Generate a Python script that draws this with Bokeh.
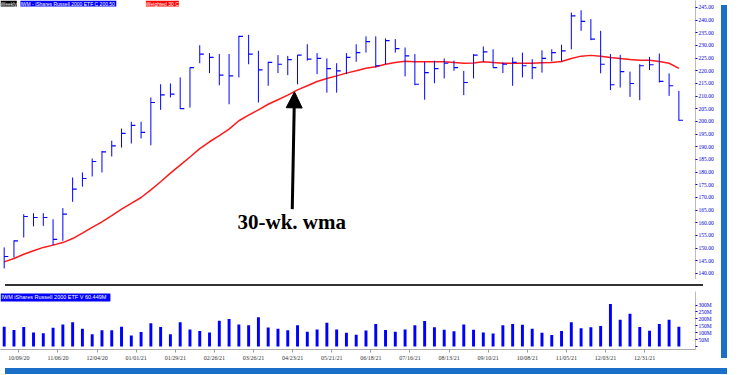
import numpy as np
from bokeh.plotting import figure
from bokeh.models import (Range1d, FixedTicker, NumeralTickFormatter, Label, Arrow,
                          NormalHead, Div, ColumnDataSource)
from bokeh.layouts import column, row
from bokeh.embed import file_html
from bokeh.resources import INLINE

# ---------------- data (weekly IWM) ----------------
highs = [150.3, 153.1, 163.4, 163.8, 163.8, 161.4, 165.8, 177.9, 179.9, 185.4,
         188.4, 192.4, 197.2, 199.9, 199.9, 209.5, 214.7, 215.0, 217.4, 221.3,
         230.1, 227.0, 226.6, 226.6, 233.8, 234.2, 227.9, 223.6, 226.2, 225.9,
         226.2, 230.5, 227.0, 224.9, 223.0, 227.0, 230.5, 233.6, 233.6, 232.8,
         232.5, 229.2, 226.6, 223.6, 224.0, 224.9, 224.0, 220.0, 226.6, 229.6,
         228.5, 223.3, 225.3, 227.2, 224.6, 228.1, 228.5, 230.3, 243.0, 243.9,
         240.4, 235.8, 226.6, 226.3, 219.7, 222.6, 225.5, 226.8, 219.0, 212.1]
lows = [142.0, 146.3, 154.2, 158.6, 158.8, 151.2, 152.9, 168.3, 174.3, 178.3,
        179.9, 186.2, 189.7, 191.3, 193.3, 190.6, 204.6, 209.5, 204.9, 205.5,
        223.0, 219.1, 214.3, 206.8, 217.4, 222.6, 207.5, 214.1, 219.1, 218.3,
        214.7, 224.0, 218.7, 211.4, 211.4, 218.7, 223.6, 227.2, 221.3, 222.6,
        227.2, 217.8, 214.3, 208.6, 215.1, 217.0, 220.0, 210.4, 217.0, 223.6,
        221.3, 219.1, 214.1, 217.4, 216.7, 219.3, 223.7, 223.7, 228.5, 235.8,
        232.1, 219.0, 212.4, 213.4, 209.7, 208.4, 220.3, 215.4, 210.1, 200.3]
closes = [146.7, 152.9, 162.5, 162.1, 162.1, 153.5, 163.4, 173.3, 177.5, 184.2,
          188.0, 190.4, 195.3, 198.5, 195.7, 207.5, 210.5, 210.8, 205.1, 221.3,
          226.6, 225.3, 218.3, 218.0, 233.6, 226.6, 220.4, 223.3, 222.6, 224.4,
          226.2, 224.6, 224.9, 220.9, 220.0, 225.3, 227.2, 231.5, 222.0, 231.9,
          228.8, 225.9, 214.7, 219.3, 220.9, 223.0, 221.3, 215.4, 226.2, 227.5,
          221.3, 222.6, 223.3, 222.0, 221.3, 224.9, 227.2, 227.9, 241.7, 239.5,
          232.5, 222.6, 214.5, 219.7, 215.0, 222.0, 222.4, 215.8, 214.1, 200.5]
wma30 = [144.6, 145.9, 147.6, 149.0, 150.3, 151.2, 152.2, 153.8, 155.9, 158.2,
         160.4, 162.8, 165.4, 167.7, 170.0, 173.0, 176.2, 179.6, 182.8, 186.0,
         189.3, 192.0, 194.4, 197.0, 200.3, 202.5, 204.6, 206.8, 208.6, 210.4,
         212.5, 214.1, 215.8, 217.0, 218.0, 219.1, 220.0, 221.0, 221.6, 222.6,
         223.3, 223.8, 223.6, 223.6, 223.6, 223.6, 223.3, 223.0, 223.1, 223.6,
         223.3, 223.0, 223.0, 223.0, 223.0, 223.2, 223.3, 223.7, 224.9, 225.8,
         226.1, 225.8, 225.3, 224.9, 224.5, 224.2, 224.2, 223.7, 223.0, 221.0]
volume_m = [144, 120, 142, 102, 96, 136, 160, 176, 128, 90,
            118, 118, 144, 80, 106, 168, 142, 90, 176, 124,
            112, 102, 186, 200, 160, 154, 212, 138, 128, 118,
            154, 108, 124, 172, 124, 100, 86, 116, 164, 120,
            108, 124, 154, 184, 140, 122, 110, 160, 122, 102,
            94, 154, 164, 158, 128, 100, 84, 112, 176, 132,
            140, 148, 308, 194, 238, 142, 114, 164, 194, 144]
date_labels = ["10/09/20", "11/06/20", "12/04/20", "01/01/21", "01/29/21", "02/26/21",
               "03/26/21", "04/23/21", "05/21/21", "06/18/21", "07/16/21", "08/13/21",
               "09/10/21", "10/08/21", "11/05/21", "12/03/21", "12/31/21"]
date_tick_pos = [1.5 + 4 * i for i in range(len(date_labels))]
price_ticks = list(range(140, 250, 5))
vol_ticks = [0, 50, 100, 150, 200, 250, 300]

# annotation placement (data coordinates)
ARROW_TAIL = (29.46, 165.4)
ARROW_TIP = (29.69, 211.7)
NOTE_POS = (23.86, 155.4)

BLUE = "#0000ff"
AXIS_BLUE = "#0000cc"
FRAME_BLUE = "#1a6fc8"
TICK_FONT = "Liberation Sans Narrow"

k = np.arange(len(closes))
src = ColumnDataSource(dict(k=k, kc=k + 0.42, high=highs, low=lows, close=closes,
                            wma=wma30, vol=volume_m))

X_RANGE = (-0.377, 70.70)
PRICE_RANGE = (137.63, 247.76)
VOL_RANGE = (-21, 397.8)


def style_right_axis(ax):
    ax.major_label_text_font_size = "5.5px"
    ax.major_label_text_color = AXIS_BLUE
    ax.major_label_text_font = TICK_FONT
    ax.major_label_standoff = 1
    ax.major_tick_out = 2
    ax.major_tick_in = 0
    ax.minor_tick_out = 0
    ax.minor_tick_in = 0
    ax.axis_line_color = "#bbbbbb"
    ax.major_tick_line_color = AXIS_BLUE


# ---------------- price panel ----------------
p = figure(width=716, height=279, output_backend="svg", toolbar_location=None,
           x_range=Range1d(*X_RANGE), y_range=Range1d(*PRICE_RANGE),
           x_axis_location=None, y_axis_location="right",
           min_border_left=0, min_border_top=0, min_border_bottom=0, min_border_right=18)
p.outline_line_color = None
p.grid.visible = False
p.background_fill_color = "white"
p.border_fill_color = "white"

p.line('k', 'wma', source=src, line_color="#ff1a1a", line_width=1.5)
p.segment(x0='k', y0='low', x1='k', y1='high', source=src, line_color=BLUE, line_width=1)
p.segment(x0='k', y0='close', x1='kc', y1='close', source=src, line_color=BLUE, line_width=1.2)

ya = p.yaxis[0]
ya.ticker = FixedTicker(ticks=price_ticks)
ya.formatter = NumeralTickFormatter(format="0.00")
style_right_axis(ya)

p.add_layout(Arrow(end=NormalHead(size=16, fill_color="black", line_color="black"),
                   x_start=ARROW_TAIL[0], y_start=ARROW_TAIL[1],
                   x_end=ARROW_TIP[0], y_end=ARROW_TIP[1],
                   line_width=3, line_color="black"))
p.add_layout(Label(x=NOTE_POS[0], y=NOTE_POS[1], text="30-wk. wma",
                   text_font="Liberation Serif", text_font_style="bold",
                   text_font_size="21px", text_color="black"))

hdr_y = PRICE_RANGE[1]
for xh, txt, bg in [(-0.377, "Weekly", "black"),
                    (1.66, "IWM - iShares Russell 2000 ETF  C 200.50", BLUE),
                    (14.49, "Weighted 30 C", "#ff0000")]:
    p.add_layout(Label(x=xh, y=hdr_y, text=txt, text_baseline="top",
                       text_font="Liberation Sans", text_font_size="5px",
                       text_color="white", background_fill_color=bg, padding=0))

# ---------------- separator ----------------
sep = Div(width=698, height=2, styles={"background-color": "#333333"})

# ---------------- volume panel ----------------
v = figure(width=716, height=72, output_backend="svg", toolbar_location=None,
           x_range=Range1d(*X_RANGE), y_range=Range1d(*VOL_RANGE),
           y_axis_location="right",
           min_border_left=0, min_border_top=0, min_border_right=18, min_border_bottom=0)
v.outline_line_color = None
v.grid.visible = False
v.vbar(x='k', top='vol', bottom=0, width=0.3, source=src, fill_color=BLUE, line_color=None)

vy = v.yaxis[0]
vy.ticker = FixedTicker(ticks=vol_ticks)
vy.major_label_overrides = {t: ("" if t == 0 else f"{t}M") for t in vol_ticks}
style_right_axis(vy)

vx = v.xaxis[0]
vx.ticker = FixedTicker(ticks=date_tick_pos)
vx.major_label_overrides = {t: lab for t, lab in zip(date_tick_pos, date_labels)}
vx.major_label_text_font_size = "6px"
vx.major_label_text_color = "#333333"
vx.major_label_text_font = TICK_FONT
vx.major_label_standoff = 2
vx.major_tick_out = 3
vx.major_tick_in = 0
vx.minor_tick_out = 0
vx.minor_tick_in = 0
vx.axis_line_color = "#aaaaaa"
vx.major_tick_line_color = "#999999"

v.add_layout(Label(x=-0.377, y=VOL_RANGE[1] - 14, text="IWM  iShares Russell 2000 ETF  V 60.449M",
                   text_baseline="top", text_font="Liberation Sans", text_font_size="5.5px",
                   text_color="white", background_fill_color=BLUE, padding=1))

# ---------------- frame ----------------
strip = Div(width=6, height=353, styles={"background-color": FRAME_BLUE})
band = Div(width=722, height=6, styles={"background-color": FRAME_BLUE})

layout = column(row(column(p, sep, v), strip), band)

open("out.html", "w").write(file_html(layout, INLINE))
